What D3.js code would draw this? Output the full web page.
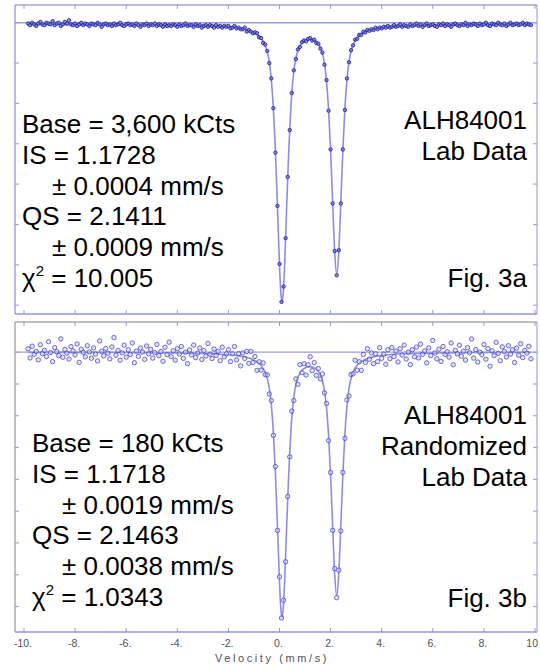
<!DOCTYPE html>
<html>
<head>
<meta charset="utf-8">
<script src="https://cdn.jsdelivr.net/npm/d3@7"></script>
<style>
  body { margin: 0; background: #fff; }
  svg { display: block; }
  .note { font-family: 'Liberation Sans', Arial, sans-serif; font-size: 26px; fill: #000; }
  .tick-label { font-family: 'Liberation Sans', Arial, sans-serif; font-size: 10.5px; fill: #50505e; }
</style>
</head>
<body>
<div id="chart"></div>
<script>
// Channel calibration (folded spectrum, mm/s)
const velStart = -9.84;
const velStep = 0.08;

// Fig. 3a - lab data, counts in kCts per channel
const labCounts = [
  3599, 3597, 3600, 3598, 3596, 3599, 3601, 3598, 3597, 3600,
  3599, 3598, 3602, 3597, 3599, 3600, 3596, 3598, 3601, 3599,
  3603, 3598, 3597, 3599, 3596, 3598, 3600, 3597, 3599, 3598,
  3596, 3599, 3598, 3597, 3600, 3598, 3595, 3598, 3599, 3597,
  3598, 3596, 3599, 3597, 3598, 3600, 3597, 3596, 3598, 3599,
  3597, 3598, 3596, 3599, 3597, 3595, 3598, 3597, 3599, 3596,
  3598, 3597, 3599, 3596, 3598, 3597, 3595, 3598, 3596, 3597,
  3596, 3598, 3597, 3595, 3598, 3596, 3597, 3599, 3596, 3597,
  3597, 3595, 3598, 3596, 3597, 3594, 3596, 3597, 3595, 3597,
  3596, 3594, 3597, 3595, 3596, 3594, 3596, 3595,
  3596, 3593, 3594, 3596, 3593, 3594, 3592, 3592, 3594, 3589,
  3591, 3589, 3587, 3588, 3587, 3582, 3581, 3575, 3573, 3565,
  3550, 3531, 3494, 3439, 3373, 3301, 3254, 3273, 3333, 3409,
  3467, 3513, 3541, 3555, 3567, 3570, 3576, 3578, 3577, 3580,
  3581, 3578, 3579, 3575, 3574, 3568, 3563, 3548, 3529, 3491,
  3443, 3376, 3317, 3287, 3318, 3376, 3443, 3492, 3531, 3551,
  3566, 3572, 3579, 3580, 3585, 3585, 3589, 3588, 3591, 3590,
  3592, 3591, 3594, 3592, 3594, 3593, 3595, 3594, 3596, 3594,
  3595, 3597, 3595, 3596, 3598, 3595, 3597, 3596, 3595, 3598,
  3596, 3597, 3599,
  3596, 3598, 3595, 3597, 3599, 3596, 3597, 3598, 3596, 3595,
  3598, 3597, 3599, 3596, 3598, 3597, 3595, 3598, 3599, 3597,
  3596, 3598, 3597, 3600, 3596, 3598, 3597, 3599, 3598, 3596,
  3599, 3597, 3598, 3600, 3597, 3596, 3599, 3598, 3597, 3600,
  3598, 3597, 3599, 3596, 3598, 3600, 3597, 3598, 3599, 3597,
  3598, 3600, 3597, 3599, 3598, 3597
];

// Fig. 3b - randomized lab data, counts in kCts per channel
const randCounts = [
  180.21, 179.64, 180.38, 179.87, 180.05, 179.52, 180.47, 179.91, 180.12, 179.73,
  180.66, 179.98, 179.41, 180.29, 180.03, 179.79, 180.84, 179.68, 180.17, 179.94,
  179.57, 180.35, 180.08, 179.83, 180.52, 179.36, 180.19, 179.99, 179.71, 180.41,
  180.02, 179.62, 180.27, 179.88, 179.45, 180.71, 180.06, 179.77, 180.24, 179.93,
  179.58, 180.33, 180.92, 179.81, 180.11, 179.49, 179.96, 180.44, 179.69, 180.15,
  179.86, 180.58, 179.34, 180.07, 179.74, 180.26, 180.01, 179.55, 180.39, 179.90,
  180.18, 179.63, 179.97, 180.49, 179.78, 180.04, 179.43, 180.31, 179.85, 180.63,
  179.72, 180.09, 179.50, 180.22, 179.89, 180.36, 179.61, 180.00, 179.28, 180.14,
  179.83, 180.45, 179.66, 179.95, 180.27, 179.54, 180.10, 179.76, 180.55, 179.87,
  179.60, 180.20, 179.79, 180.06, 179.47, 180.32, 179.71, 179.90,
  180.16, 179.41, 179.90, 180.36, 179.52, 179.91, 179.14, 179.95, 179.61, 180.05,
  179.30, 180.05, 179.35, 179.73, 178.86, 179.40, 178.87, 179.33, 178.59, 178.57,
  177.37, 176.96, 174.77, 172.81, 168.79, 165.87, 163.28, 164.40, 166.82, 170.93,
  173.42, 176.29, 176.96, 178.32, 177.98, 179.22, 178.71, 179.27, 178.56, 179.21,
  179.71, 178.84, 179.35, 178.54, 178.97, 178.32, 178.63, 177.44, 176.78, 174.44,
  172.43, 168.79, 166.39, 164.56, 166.29, 168.76, 172.44, 174.58, 177.00, 177.25,
  178.60, 178.64, 179.49, 178.87, 179.40, 178.86, 179.86, 179.35, 180.22, 179.56,
  179.96, 179.28, 179.90, 179.41, 180.29, 179.61, 179.88, 179.24, 180.16, 179.59,
  180.29, 179.72, 180.07, 179.39, 180.22, 179.82, 180.45, 179.57, 180.00, 179.22,
  180.16, 179.71, 180.32,
  179.64, 180.51, 179.87, 180.08, 179.33, 180.27, 179.79, 180.74, 179.95, 179.58,
  180.19, 179.42, 180.36, 179.86, 180.03, 179.69, 180.58, 179.21, 180.12, 179.90,
  180.44, 179.75, 180.06, 179.51, 180.29, 179.97, 180.83, 179.63, 180.17, 179.38,
  180.01, 179.84, 180.48, 179.56, 180.23, 179.12, 180.09, 179.78, 180.62, 179.93,
  179.47, 180.34, 180.05, 179.70, 180.41, 179.88, 180.15, 179.35, 180.26, 179.81,
  180.53, 179.66, 180.11, 179.94, 180.37, 179.59
];

// Fitted doublet, sampled at these velocities
const fitVel = [
  -9.84, -8, -6, -4, -3, -2.4, -2.0, -1.6, -1.2, -1.0,
  -0.8, -0.64, -0.56, -0.48, -0.40, -0.32, -0.24, -0.16, -0.08, 0.00,
  0.05, 0.10, 0.15, 0.20, 0.28, 0.36, 0.44, 0.52, 0.60, 0.70,
  0.80, 0.95, 1.17, 1.40, 1.55, 1.68, 1.76, 1.84, 1.92, 2.00,
  2.08, 2.16, 2.24, 2.32, 2.40, 2.48, 2.56, 2.64, 2.72, 2.84,
  3.0, 3.2, 3.5, 4.0, 5.0, 6.5, 8.0, 9.84
];
const labFit = [
  3597.8, 3597.7, 3597.5, 3597.0, 3596.4, 3595.6, 3594.8, 3593.3, 3590.3, 3587.7,
  3583.3, 3577.0, 3571.9, 3564.2, 3551.3, 3529.5, 3494.0, 3441.1, 3372.1, 3299.9,
  3266.5, 3253.8, 3266.2, 3299.4, 3371.3, 3440.0, 3492.5, 3527.6, 3548.9, 3563.5,
  3571.1, 3576.6, 3579.4, 3577.3, 3572.2, 3562.0, 3549.3, 3527.5, 3492.4, 3441.3,
  3377.2, 3315.8, 3288.4, 3316.1, 3378.0, 3442.4, 3494.0, 3529.5, 3551.8, 3569.4,
  3579.8, 3586.0, 3590.5, 3593.9, 3596.1, 3597.1, 3597.5, 3597.7
];
const randFit = [
  179.99, 179.99, 179.98, 179.95, 179.92, 179.88, 179.84, 179.77, 179.63, 179.50,
  179.29, 178.98, 178.73, 178.36, 177.74, 176.68, 174.96, 172.39, 169.04, 165.54,
  163.92, 163.31, 163.91, 165.52, 169.01, 172.34, 174.88, 176.59, 177.62, 178.33,
  178.70, 178.96, 179.09, 178.98, 178.72, 178.22, 177.59, 176.51, 174.77, 172.24,
  169.07, 166.03, 164.67, 166.05, 169.11, 172.30, 174.85, 176.61, 177.71, 178.58,
  179.10, 179.41, 179.63, 179.80, 179.91, 179.96, 179.98, 179.99
];

// Axis ticks
const velTicks = [-10, -8, -6, -4, -2, 0, 2, 4, 6, 8, 10];
const velTickLabels = ['-10.', '-8.', '-6.', '-4.', '-2.', '0.', '2.', '4.', '6.', '8.', '10'];
const labCountTicks = [3250, 3300, 3350, 3400, 3450, 3500, 3550, 3600];
const randCountTicks = [164, 166, 168, 170, 172, 174, 176, 178, 180];

// Annotations
const labNotes = ['Base = 3,600 kCts', 'IS = 1.1728', '± 0.0004 mm/s', 'QS = 2.1411', '± 0.0009 mm/s'];
const labChi = '10.005';
const labTags = ['ALH84001', 'Lab Data'];
const randNotes = ['Base = 180 kCts', 'IS = 1.1718', '± 0.0019 mm/s', 'QS = 2.1463', '± 0.0038 mm/s'];
const randChi = '1.0343';
const randTags = ['ALH84001', 'Randomized', 'Lab Data'];

if (labCounts.length !== randCounts.length || labFit.length !== fitVel.length || randFit.length !== fitVel.length) {
    console.error('data length mismatch', labCounts.length, randCounts.length, labFit.length, randFit.length);
}

const width = 540;
const height = 665;
const frameLeft = 15;
const frameRight = 537;
const lineGap = 30.8;

const svg = d3.select('#chart')
    .append('svg')
    .attr('width', width)
    .attr('height', height);

const x = d3.scaleLinear().domain([-10, 10]).range([24, 535]);
const channelVel = labCounts.map((_, i) => velStart + i * velStep);

function drawPanel(p) {
    const y = d3.scaleLinear().domain(p.domain).range([p.bottom, p.top]);
    const g = svg.append('g');

    // frame
    g.append('line').attr('x1', frameLeft).attr('x2', frameRight).attr('y1', p.top).attr('y2', p.top)
        .attr('stroke', p.topColor).attr('stroke-width', 1.5);
    g.append('line').attr('x1', frameLeft).attr('x2', frameLeft).attr('y1', p.top).attr('y2', p.bottom)
        .attr('stroke', p.topColor).attr('stroke-width', 1.5);
    g.append('line').attr('x1', frameLeft).attr('x2', frameRight).attr('y1', p.bottom).attr('y2', p.bottom)
        .attr('stroke', '#9696dc').attr('stroke-width', 1.5);
    g.append('line').attr('x1', frameRight).attr('x2', frameRight).attr('y1', p.top).attr('y2', p.bottom)
        .attr('stroke', '#a4a4e2').attr('stroke-width', 1.2);

    // inward ticks
    velTicks.forEach(v => {
        g.append('line').attr('x1', x(v)).attr('x2', x(v)).attr('y1', p.top).attr('y2', p.top + 4)
            .attr('stroke', '#9696dc');
        g.append('line').attr('x1', x(v)).attr('x2', x(v)).attr('y1', p.bottom).attr('y2', p.bottom - 4)
            .attr('stroke', '#9696dc');
    });
    p.ticks.forEach(c => {
        g.append('line').attr('x1', frameLeft).attr('x2', frameLeft + 4).attr('y1', y(c)).attr('y2', y(c))
            .attr('stroke', '#9696dc');
        g.append('line').attr('x1', frameRight).attr('x2', frameRight - 4).attr('y1', y(c)).attr('y2', y(c))
            .attr('stroke', '#9696dc');
    });

    // base line
    g.append('line').attr('x1', frameLeft).attr('x2', frameRight)
        .attr('y1', y(p.base)).attr('y2', y(p.base))
        .attr('stroke', '#9c9ce6').attr('stroke-width', 1.3);

    // fitted curve
    const line = d3.line()
        .x((d, i) => x(fitVel[i]))
        .y(d => y(d))
        .curve(d3.curveMonotoneX);
    g.append('path').datum(p.fit)
        .attr('d', line)
        .attr('fill', 'none')
        .attr('stroke', '#8c8ce8')
        .attr('stroke-width', 1.6);

    // data points
    g.selectAll('circle.pt')
        .data(p.counts)
        .enter()
        .append('circle')
        .attr('class', 'pt')
        .attr('cx', (d, i) => x(channelVel[i]))
        .attr('cy', d => y(d))
        .attr('r', p.r)
        .attr('fill', p.fill)
        .attr('fill-opacity', p.fillOpacity)
        .attr('stroke', p.stroke)
        .attr('stroke-opacity', p.strokeOpacity)
        .attr('stroke-width', 1);
}

drawPanel({
    top: 5, bottom: 314, domain: [3239, 3622], ticks: labCountTicks, base: 3600,
    counts: labCounts, fit: labFit, topColor: '#a4a4e2',
    r: 1.7, fill: '#7a7ad6', fillOpacity: 0.8, stroke: '#2626a2', strokeOpacity: 0.9
});
drawPanel({
    top: 322, bottom: 632, domain: [162.4, 181.9], ticks: randCountTicks, base: 180,
    counts: randCounts, fit: randFit, topColor: '#aaaab4',
    r: 2.2, fill: '#c4c4f0', fillOpacity: 0.5, stroke: '#4646bc', strokeOpacity: 0.75
});

// Text blocks
function drawNotes(notes, chi, left, firstBaseline) {
    notes.forEach((t, i) => {
        svg.append('text')
            .attr('class', 'note')
            .attr('x', left + (t.startsWith('±') ? 30 : 0))
            .attr('y', firstBaseline + i * lineGap)
            .text(t);
    });
    const chiText = svg.append('text')
        .attr('class', 'note')
        .attr('x', left)
        .attr('y', firstBaseline + notes.length * lineGap);
    chiText.append('tspan').text('χ');
    chiText.append('tspan').attr('font-size', 15).attr('dy', -11).text('2');
    chiText.append('tspan').attr('dy', 11).text(' = ' + chi);
}

function drawTags(tags, fig, firstBaseline, figBaseline) {
    tags.forEach((t, i) => {
        svg.append('text')
            .attr('class', 'note')
            .attr('x', 527)
            .attr('y', firstBaseline + i * 31)
            .attr('text-anchor', 'end')
            .text(t);
    });
    svg.append('text')
        .attr('class', 'note')
        .attr('x', 527)
        .attr('y', figBaseline)
        .attr('text-anchor', 'end')
        .text(fig);
}

drawNotes(labNotes, labChi, 22, 133);
drawTags(labTags, 'Fig. 3a', 129, 287);
drawNotes(randNotes, randChi, 32, 452);
drawTags(randTags, 'Fig. 3b', 424, 607);

// Velocity axis labels (last one sits against the right edge)
const lastTick = velTicks.length - 1;
svg.selectAll('text.tick-label')
    .data(velTicks)
    .enter()
    .append('text')
    .attr('class', 'tick-label')
    .attr('x', (d, i) => i === lastTick ? width - 2 : x(d) - 1)
    .attr('y', 647)
    .attr('text-anchor', (d, i) => i === lastTick ? 'end' : 'middle')
    .text((d, i) => velTickLabels[i]);

svg.append('text')
    .attr('class', 'tick-label')
    .attr('x', 272)
    .attr('y', 662)
    .attr('text-anchor', 'middle')
    .style('font-size', '11px')
    .style('letter-spacing', '2.6px')
    .text('Velocity (mm/s)');
</script>
</body>
</html>
